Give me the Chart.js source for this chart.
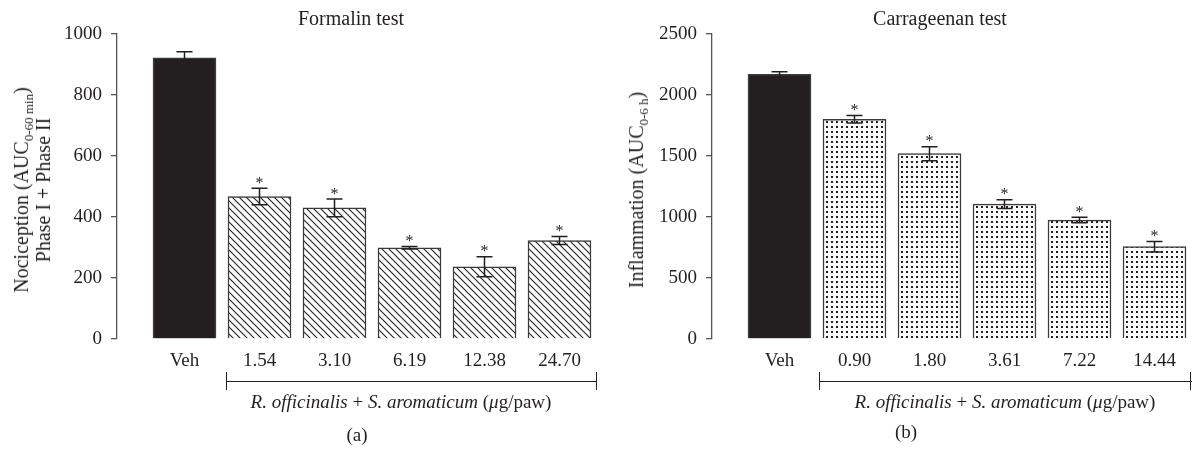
<!DOCTYPE html>
<html>
<head>
<meta charset="utf-8">
<script src="https://cdn.jsdelivr.net/npm/chart.js@4/dist/chart.umd.min.js"></script>
<style>
  html, body { margin: 0; padding: 0; background: #fff; }
  #wrap { position: relative; width: 1192px; height: 453px; overflow: hidden; font-family: "Liberation Serif", "DejaVu Serif", serif; color: #231f20; }
  canvas { position: absolute; top: 0; }
  .t { position: absolute; white-space: nowrap; transform: translate(-50%, -50%); }
  .rot { position: absolute; white-space: nowrap; text-align: center; transform: translate(-50%, -50%) rotate(-90deg); }
  sub { font-size: 13px; vertical-align: -5px; line-height: 0; }
  .hl { position: absolute; background: #231f20; }
</style>
</head>
<body>
<div id="wrap">
  <canvas id="ca" width="600" height="453" style="left:0;width:600px;height:453px"></canvas>
  <canvas id="cb" width="592" height="453" style="left:600px;width:592px;height:453px"></canvas>

  <div class="t" style="left:351px;top:18px;font-size:20px">Formalin test</div>
  <div class="t" style="left:940px;top:18px;font-size:20px">Carrageenan test</div>

  <div class="rot" style="left:32px;top:190px;font-size:20px;line-height:22px">Nociception (AUC<sub>0-60 min</sub>)<br>Phase I + Phase II</div>
  <div class="rot" style="left:636px;top:190px;font-size:20px;line-height:22px">Inflammation (AUC<sub>0-6 h</sub>)</div>

  <!-- brackets -->
  <div class="hl" style="left:226px;top:381px;width:371px;height:1.3px"></div>
  <div class="hl" style="left:225.5px;top:372px;width:1.3px;height:18px"></div>
  <div class="hl" style="left:596px;top:372px;width:1.3px;height:18px"></div>
  <div class="t" style="left:401px;top:402px;font-size:19px"><i>R. officinalis</i> + <i>S. aromaticum</i> (<i>μ</i>g/paw)</div>
  <div class="t" style="left:357px;top:435px;font-size:19px">(a)</div>

  <div class="hl" style="left:819px;top:381px;width:373px;height:1.3px"></div>
  <div class="hl" style="left:818.5px;top:372px;width:1.3px;height:18px"></div>
  <div class="hl" style="left:1190px;top:372px;width:1.3px;height:18px"></div>
  <div class="t" style="left:1005px;top:402px;font-size:19px"><i>R. officinalis</i> + <i>S. aromaticum</i> (<i>μ</i>g/paw)</div>
  <div class="t" style="left:906px;top:432px;font-size:19px">(b)</div>
</div>
<script>
// ---------------- DATA ----------------
const catsA = ['Veh', '1.54', '3.10', '6.19', '12.38', '24.70'];
const valsA = [922, 467, 430, 299, 237, 323];
const errA  = [20, 27, 29, 4, 33, 13];
const sigA  = [false, true, true, true, true, true];
const yTicksA = [0, 200, 400, 600, 800, 1000];

const catsB = ['Veh', '0.90', '1.80', '3.61', '7.22', '14.44'];
const valsB = [2170, 1801, 1519, 1105, 975, 757];
const errB  = [21, 30, 57, 36, 22, 43];
const sigB  = [false, true, true, true, true, true];
const yTicksB = [0, 500, 1000, 1500, 2000, 2500];

// ---------------- PATTERNS ----------------
function hatchPattern() {
  const s = 7;
  const c = document.createElement('canvas');
  c.width = s; c.height = s;
  const g = c.getContext('2d');
  g.fillStyle = '#fff'; g.fillRect(0, 0, s, s);
  g.strokeStyle = '#231f20'; g.lineWidth = 1.1;
  for (const off of [-s, 0, s]) {
    g.beginPath(); g.moveTo(off - 1, -1); g.lineTo(off + s + 1, s + 1); g.stroke();
  }
  return document.createElement('canvas').getContext('2d').createPattern(c, 'repeat');
}
function dotPattern() {
  const sx = 5, sy = 5;
  const c = document.createElement('canvas');
  c.width = sx; c.height = sy;
  const g = c.getContext('2d');
  g.fillStyle = '#fff'; g.fillRect(0, 0, sx, sy);
  g.fillStyle = '#231f20'; g.fillRect(1, 1, 2, 2);
  return document.createElement('canvas').getContext('2d').createPattern(c, 'repeat');
}

const INK = '#231f20';
const FONT = 'Liberation Serif';

const errPlugin = {
  id: 'errbars',
  afterDatasetsDraw(chart, args, opts) {
    const ctx = chart.ctx, xs = chart.scales.x, ys = chart.scales.y;
    ctx.save();
    ctx.strokeStyle = INK; ctx.lineWidth = 1.5;
    opts.vals.forEach((v, i) => {
      const x = xs.getPixelForValue(i);
      const yt = ys.getPixelForValue(v + opts.errs[i]);
      const yb = ys.getPixelForValue(v - opts.errs[i]);
      ctx.beginPath();
      ctx.moveTo(x, yt); ctx.lineTo(x, yb);
      ctx.moveTo(x - 8, yt); ctx.lineTo(x + 8, yt);
      ctx.moveTo(x - 8, yb); ctx.lineTo(x + 8, yb);
      ctx.stroke();
      if (opts.sig[i]) {
        ctx.fillStyle = INK;
        ctx.font = '16px "' + FONT + '"';
        ctx.textAlign = 'center';
        ctx.textBaseline = 'alphabetic';
        ctx.fillText('*', x, yt - 0.5);
      }
    });
    ctx.restore();
  }
};

function makeChart(id, cats, vals, errs, sig, yTicks, fill, yWidth, padRight) {
  const colors = vals.map((_, i) => i === 0 ? INK : fill);
  new Chart(document.getElementById(id), {
    type: 'bar',
    data: {
      datasets: [{
        data: vals.map((v, i) => ({ x: i, y: v })),
        backgroundColor: colors,
        borderColor: '#3a3a3a',
        borderWidth: 1.5,
        barThickness: 63
      }]
    },
    options: {
      responsive: false,
      animation: false,
      events: [],
      layout: { padding: { top: 34, right: padRight, left: 0, bottom: 0 } },
      plugins: {
        legend: { display: false },
        tooltip: { enabled: false },
        errbars: { vals: vals, errs: errs, sig: sig }
      },
      scales: {
        x: {
          type: 'linear',
          offset: false,
          min: -0.9,
          max: cats.length - 0.5,
          grid: { display: false, offset: false },
          border: { display: false },
          afterBuildTicks: s => { s.ticks = cats.map((_, i) => ({ value: i })); },
          afterFit: s => { s.height = 453 - 339; },
          ticks: {
            autoSkip: false,
            maxRotation: 0,
            padding: 3,
            color: INK,
            font: { family: FONT, size: 19 },
            callback: v => cats[v] !== undefined ? cats[v] : ''
          }
        },
        y: {
          min: yTicks[0],
          max: yTicks[yTicks.length - 1],
          afterBuildTicks: s => { s.ticks = yTicks.map(v => ({ value: v })); },
          afterFit: s => { s.width = yWidth; },
          grid: { drawOnChartArea: false, drawTicks: true, tickLength: 6, color: '#555', lineWidth: 1.3 },
          border: { display: true, color: '#555', width: 1.3 },
          ticks: {
            padding: 9,
            color: INK,
            font: { family: FONT, size: 19 },
            callback: v => String(v)
          }
        }
      }
    },
    plugins: [errPlugin]
  });
}

makeChart('ca', catsA, valsA, errA, sigA, yTicksA, hatchPattern(), 117, 3);
makeChart('cb', catsB, valsB, errB, sigB, yTicksB, dotPattern(), 112, 0);
</script>
</body>
</html>
